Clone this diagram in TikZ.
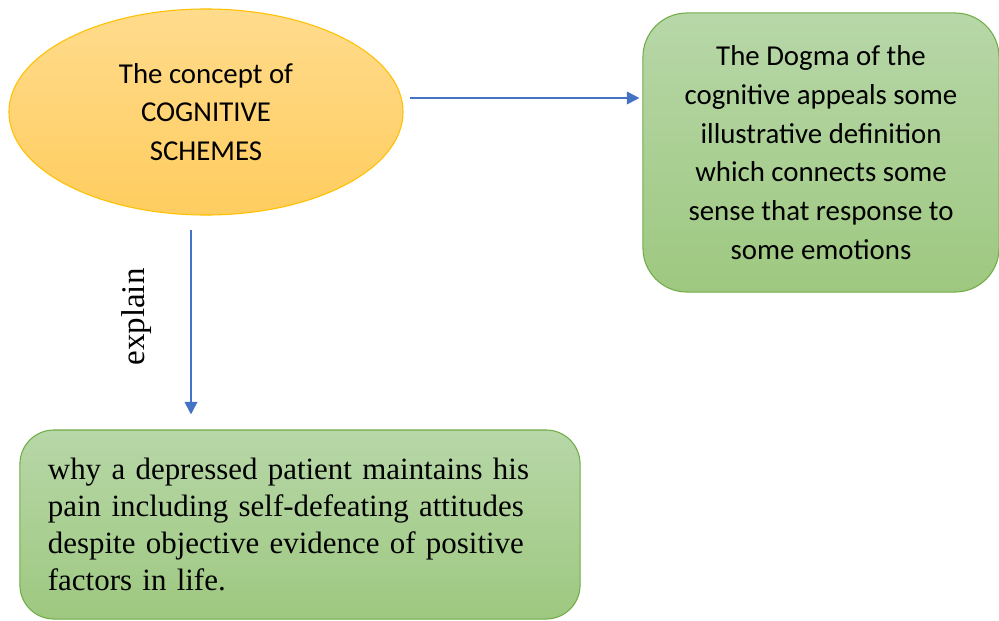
\documentclass[tikz,border=0pt]{standalone}
\usepackage{fontspec}
\setmainfont{Liberation Serif}
\newfontfamily\calibri{Carlito}
\usetikzlibrary{shapes.geometric, arrows.meta, calc}
\definecolor{conceptTop}{RGB}{255,219,140}
\definecolor{conceptBottom}{RGB}{255,205,95}
\definecolor{conceptLine}{RGB}{255,192,0}
\definecolor{greenTop}{RGB}{183,215,168}
\definecolor{greenBottom}{RGB}{158,200,128}
\definecolor{greenLine}{RGB}{112,173,71}
\definecolor{linkBlue}{RGB}{68,114,196}
\tikzstyle{concept} = [ellipse, draw=conceptLine, line width=0.75pt, top color=conceptTop, bottom color=conceptBottom, minimum width=9.85cm, minimum height=5.15cm, align=center, font=\calibri\fontsize{20.5}{27.5}\selectfont]
\tikzstyle{dogma} = [rectangle, rounded corners=1.1cm, draw=greenLine, line width=0.75pt, top color=greenTop, bottom color=greenBottom, minimum width=8.9cm, minimum height=6.975cm, align=center, font=\calibri\fontsize{20.5}{27.5}\selectfont]
\tikzstyle{why} = [rectangle, rounded corners=0.85cm, draw=greenLine, line width=0.75pt, top color=greenTop, bottom color=greenBottom, minimum width=14cm, minimum height=4.725cm, text width=12.6cm, align=left, font=\fontsize{22}{26.3}\selectfont]
\tikzstyle{arrow} = [line width=1.4pt, draw=linkBlue, -{Triangle[length=9pt, width=9pt]}]

\begin{document}
\begin{tikzpicture}[x=0.025cm, y=-0.025cm]
		\useasboundingbox (0,0) rectangle (999,620);
		\node (Concept) [concept] at (206,112) {The concept of\\COGNITIVE\\SCHEMES};
		\node (Dogma) [dogma] at (821,152.5) {The Dogma of the\\cognitive appeals some\\illustrative definition\\which connects some\\sense that response to\\some emotions};
		\node (Why) [why] at (300,524.5) {\mbox{why a depressed patient maintains his}\\\mbox{pain including self-defeating attitudes}\\\mbox{despite objective evidence of positive}\\\mbox{factors in life.}};
		\node (Explain) [rotate=90, font=\fontsize{23.5}{26.3}\selectfont] at (137,317) {explain};
		\coordinate (ConceptOut) at (410,98);
		\coordinate (ConceptDown) at (191,230);
		\draw [arrow] (ConceptOut) -- ($(ConceptOut -| Dogma.west)+(-3,0)$);
		\draw [arrow] (ConceptDown) -- ($(ConceptDown |- Why.north)+(0,-15)$);
\end{tikzpicture}
\end{document}
